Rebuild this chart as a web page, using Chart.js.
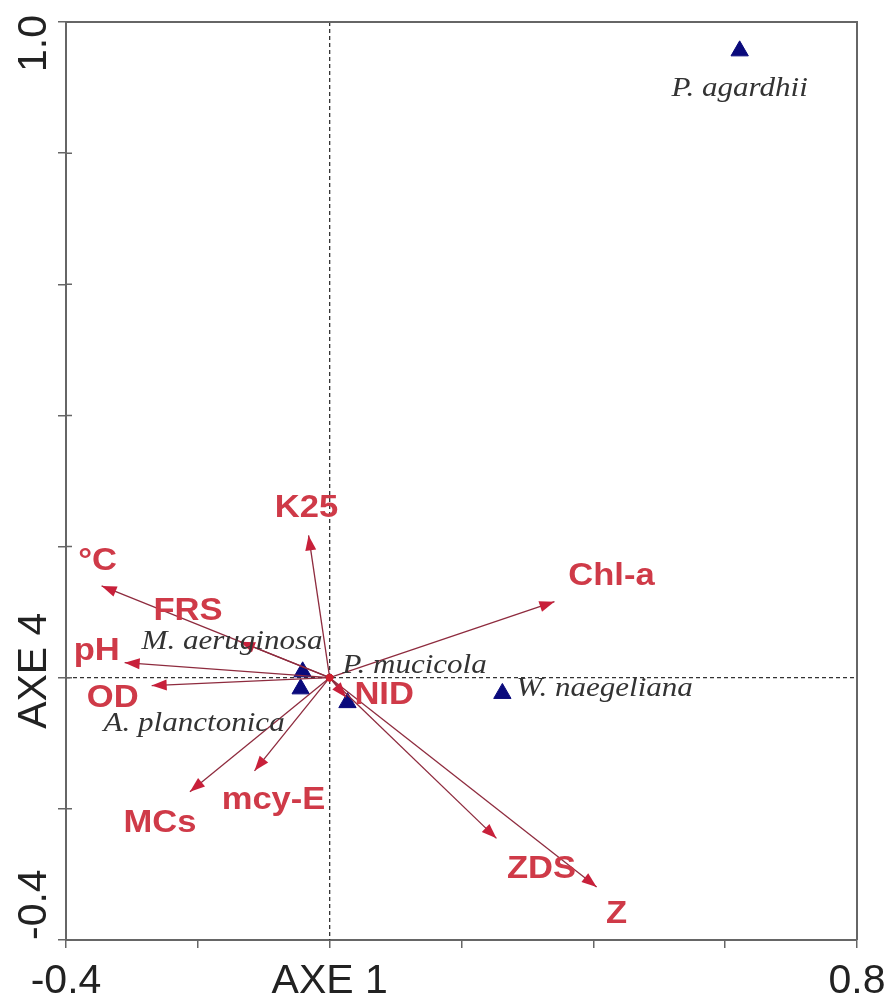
<!DOCTYPE html>
<html>
<head>
<meta charset="utf-8">
<script src="https://cdn.jsdelivr.net/npm/chart.js@4.4.1/dist/chart.umd.min.js"></script>
<style>
  html, body { margin: 0; padding: 0; background: #fff; }
  #wrap { width: 891px; height: 998px; position: relative; }
</style>
</head>
<body>
<div id="wrap"><canvas id="myChart"></canvas></div>
<script>
// environmental variables (arrows from the origin)
const envNames = ['K25', '°C', 'FRS', 'pH', 'OD', 'MCs', 'mcy-E', 'Chl-a', 'NID', 'ZDS', 'Z'];
const envX = [-0.032, -0.346, -0.136, -0.311, -0.270, -0.212, -0.114, 0.341, 0.025, 0.253, 0.405];
const envY = [0.217, 0.140, 0.055, 0.023, -0.012, -0.174, -0.142, 0.116, -0.030, -0.245, -0.319];

// species (triangles)
const speciesNames = ['P. agardhii', 'M. aeruginosa', 'P. mucicola', 'A. planctonica', 'W. naegeliana'];
const speciesX = [0.622, -0.041, 0.027, -0.044, 0.262];
const speciesY = [0.956, 0.009, -0.038, -0.017, -0.024];

// axis labels
const xTicks = [-0.4, 0.8];
const xTickLabels = ['-0.4', '0.8'];
const yTicks = [-0.4, 1.0];
const yTickLabels = ['-0.4', '1.0'];
const xTitle = 'AXE 1';
const yTitle = 'AXE 4';

// label placement (pixel offsets from the mark)
const envLabelOffset = [[-2, -27], [-4, -25], [-52, -30], [-28, -11], [-39, 13], [-30, 31], [19, 29], [57, -25], [38, -2], [45, 31], [20, 27]];
const speciesLabelPlace = [[0, 38, 'center'], [20, -30, 'right'], [-5, -37, 'left'], [-16, 35, 'right'], [14, -5, 'left']];

const arrowLine = '#8e2b3e';
const arrowHead = '#c8203a';
const envColor = '#cf3a48';
const speciesColor = '#0a0a7c';
const axisColor = '#666';

const vectorSets = envNames.map((name, i) => ({
  label: name,
  data: [{ x: 0, y: 0 }, { x: envX[i], y: envY[i] }],
  showLine: true,
  borderColor: arrowLine,
  borderWidth: 1.3,
  pointRadius: [3.5, 0],
  pointBackgroundColor: '#d0202e',
  pointBorderWidth: 0,
  order: 0,
  isVector: true,
}));

const speciesSet = {
  label: 'species',
  data: speciesX.map((x, i) => ({ x, y: speciesY[i] })),
  pointStyle: 'triangle',
  pointRadius: 10,
  backgroundColor: speciesColor,
  borderColor: speciesColor,
  borderWidth: 1,
  order: 1,
};

function stretchText(c, text, x, y, align, sx) {
  c.save();
  c.translate(x, y);
  c.scale(sx, 1);
  c.textAlign = align;
  c.textBaseline = 'middle';
  c.fillText(text, 0, 0);
  c.restore();
}

const framePlugin = {
  id: 'frame',
  beforeDatasetsDraw(chart) {
    const { ctx: c, chartArea: a, scales } = chart;
    const x0 = scales.x.getPixelForValue(0);
    const y0 = scales.y.getPixelForValue(0);
    c.save();
    c.strokeStyle = '#333';
    c.lineWidth = 1.3;
    c.setLineDash([4, 3]);
    c.beginPath();
    c.moveTo(x0, a.top);
    c.lineTo(x0, a.bottom);
    c.moveTo(a.left, y0);
    c.lineTo(a.right, y0);
    c.stroke();
    c.restore();
  },
  afterDatasetsDraw(chart) {
    const { ctx: c, chartArea: a, scales } = chart;
    c.save();
    // top and right border
    c.strokeStyle = axisColor;
    c.lineWidth = 2;
    c.beginPath();
    c.moveTo(a.left, a.top);
    c.lineTo(a.right, a.top);
    c.lineTo(a.right, a.bottom);
    c.stroke();

    // small ticks inside the left axis too
    c.lineWidth = 1.5;
    c.beginPath();
    scales.y.ticks.forEach((t) => {
      const py = scales.y.getPixelForValue(t.value);
      c.moveTo(a.left, py);
      c.lineTo(a.left + 6, py);
    });
    c.stroke();

    // arrowheads
    chart.data.datasets.forEach((ds, i) => {
      if (!ds.isVector) return;
      const pts = chart.getDatasetMeta(i).data;
      const p0 = pts[0], p1 = pts[1];
      const ang = Math.atan2(p1.y - p0.y, p1.x - p0.x);
      const len = 15, half = 5.5;
      c.fillStyle = arrowHead;
      c.beginPath();
      c.moveTo(p1.x, p1.y);
      c.lineTo(p1.x - len * Math.cos(ang) + half * Math.sin(ang), p1.y - len * Math.sin(ang) - half * Math.cos(ang));
      c.lineTo(p1.x - len * Math.cos(ang) - half * Math.sin(ang), p1.y - len * Math.sin(ang) + half * Math.cos(ang));
      c.closePath();
      c.fill();
    });

    // variable labels
    c.fillStyle = envColor;
    c.font = 'bold 32px "Liberation Sans", Arial, sans-serif';
    envNames.forEach((name, i) => {
      const px = scales.x.getPixelForValue(envX[i]);
      const py = scales.y.getPixelForValue(envY[i]);
      stretchText(c, name, px + envLabelOffset[i][0], py + envLabelOffset[i][1], 'center', 1.08);
    });

    // species labels
    c.fillStyle = '#333';
    c.font = 'italic 27px "Liberation Serif", "Times New Roman", serif';
    speciesNames.forEach((name, i) => {
      const px = scales.x.getPixelForValue(speciesX[i]);
      const py = scales.y.getPixelForValue(speciesY[i]);
      const [dx, dy, align] = speciesLabelPlace[i];
      stretchText(c, name, px + dx, py + dy, align, 1.15);
    });

    // axis tick labels and titles
    c.fillStyle = '#222';
    c.font = '41px "Liberation Sans", Arial, sans-serif';
    c.textBaseline = 'alphabetic';
    c.textAlign = 'center';
    xTicks.forEach((v, i) => c.fillText(xTickLabels[i], scales.x.getPixelForValue(v), 993));
    c.fillText(xTitle, scales.x.getPixelForValue(0), 993);

    const yAligns = ['left', 'right'];
    const yShift = [0, -7];
    yTicks.forEach((v, i) => {
      c.save();
      c.translate(46, scales.y.getPixelForValue(v) + yShift[i]);
      c.rotate(-Math.PI / 2);
      c.textAlign = yAligns[i];
      c.fillText(yTickLabels[i], 0, 0);
      c.restore();
    });
    c.save();
    c.translate(46, scales.y.getPixelForValue(0) - 7);
    c.rotate(-Math.PI / 2);
    c.textAlign = 'center';
    c.fillText(yTitle, 0, 0);
    c.restore();
    c.restore();
  },
};

const ctx = document.getElementById('myChart');

new Chart(ctx, {
  type: 'scatter',
  data: { datasets: [...vectorSets, speciesSet] },
  options: {
    responsive: true,
    maintainAspectRatio: false,
    animation: false,
    layout: { padding: { left: 66, top: 22, right: 34, bottom: 58 } },
    plugins: { legend: { display: false }, tooltip: { enabled: false } },
    scales: {
      x: {
        type: 'linear',
        min: -0.4,
        max: 0.8,
        ticks: { display: false, stepSize: 0.2 },
        grid: { drawOnChartArea: false, drawTicks: true, tickLength: 8, color: axisColor, lineWidth: 1.5 },
        border: { color: axisColor, width: 2 },
        afterFit(scale) { scale.height = 0; },
      },
      y: {
        type: 'linear',
        min: -0.4,
        max: 1.0,
        ticks: { display: false, stepSize: 0.2 },
        grid: { drawOnChartArea: false, drawTicks: true, tickLength: 8, color: axisColor, lineWidth: 1.5 },
        border: { color: axisColor, width: 2 },
        afterFit(scale) { scale.width = 0; },
      },
    },
  },
  plugins: [framePlugin],
});
</script>
</body>
</html>
